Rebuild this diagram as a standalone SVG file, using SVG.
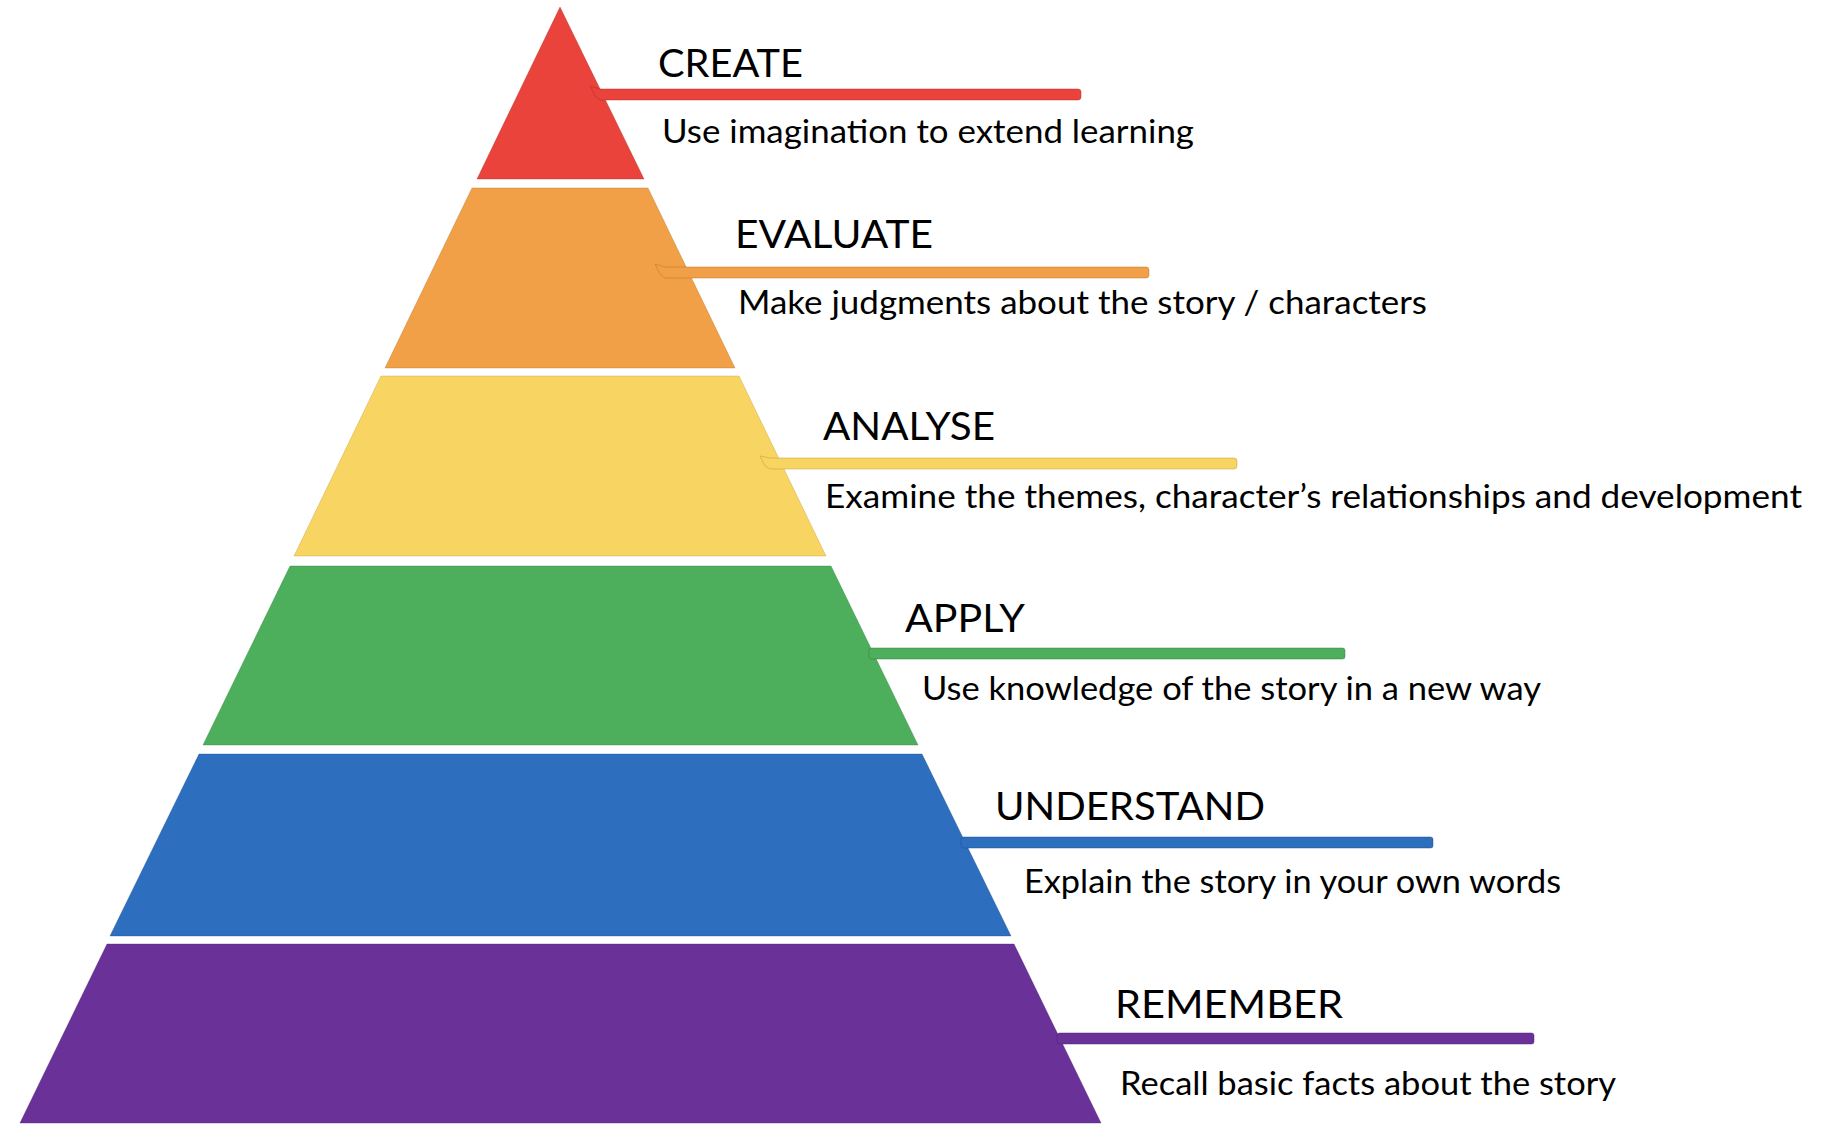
<svg xmlns="http://www.w3.org/2000/svg" width="1825" height="1131" viewBox="0 0 1825 1131">
<style>
.title{font-family:Lato,"Open Sans","Liberation Sans",sans-serif;font-size:38px;fill:#000}
.desc{font-family:Lato,"Open Sans","Liberation Sans",sans-serif;font-size:33.5px;fill:#000}
.band{stroke-width:1;stroke-opacity:0.35}
.bar{stroke-width:1;stroke-opacity:0.45}
.red{fill:#E9433B;stroke:#a82a24}
.orange{fill:#F1A047;stroke:#b0702a}
.yellow{fill:#F8D462;stroke:#b89a30}
.green{fill:#4DAE5B;stroke:#2e7a3a}
.blue{fill:#2D6EBF;stroke:#1c4a85}
.purple{fill:#6A3298;stroke:#45206a}
</style>
<rect width="1825" height="1131" fill="#ffffff"/>

<g id="create">
  <polygon class="band red" points="560,7 644,179 477,179"/>
  <text class="title" x="658" y="77" textLength="145" lengthAdjust="spacingAndGlyphs">CREATE</text>
  <text class="desc" x="662" y="143" textLength="532" lengthAdjust="spacingAndGlyphs">Use imagination to extend learning</text>
</g>

<g id="evaluate">
  <polygon class="band orange" points="472,188 648,188 735,368 385,368"/>
  <text class="title" x="735" y="248" textLength="198" lengthAdjust="spacingAndGlyphs">EVALUATE</text>
  <text class="desc" x="738" y="314" textLength="689" lengthAdjust="spacingAndGlyphs">Make judgments about the story / characters</text>
</g>

<g id="analyse">
  <polygon class="band yellow" points="381,376 739,376 826,556 294,556"/>
  <text class="title" x="823" y="440" textLength="172" lengthAdjust="spacingAndGlyphs">ANALYSE</text>
  <text class="desc" x="825" y="508" textLength="977" lengthAdjust="spacingAndGlyphs">Examine the themes, character’s relationships and development</text>
</g>

<g id="apply">
  <polygon class="band green" points="290,566 831,566 918,745 203,745"/>
  <text class="title" x="905" y="632" textLength="120" lengthAdjust="spacingAndGlyphs">APPLY</text>
  <text class="desc" x="922" y="700" textLength="619" lengthAdjust="spacingAndGlyphs">Use knowledge of the story in a new way</text>
</g>

<g id="understand">
  <polygon class="band blue" points="199,754 922,754 1011,936 110,936"/>
  <text class="title" x="995" y="820" textLength="270" lengthAdjust="spacingAndGlyphs">UNDERSTAND</text>
  <text class="desc" x="1024" y="893" textLength="537" lengthAdjust="spacingAndGlyphs">Explain the story in your own words</text>
</g>

<g id="remember">
  <polygon class="band purple" points="107,944 1014,944 1101,1123 20,1123"/>
  <text class="title" x="1115" y="1018" textLength="228" lengthAdjust="spacingAndGlyphs">REMEMBER</text>
  <text class="desc" x="1120" y="1095" textLength="496" lengthAdjust="spacingAndGlyphs">Recall basic facts about the story</text>
</g>

<g id="connectors">
  <path class="bar red" d="M590,86 L600,89 L1078,89 Q1081,89 1081,92 L1081,97 Q1081,100 1078,100 L600,100 L595,96 Z"/>
  <path class="bar orange" d="M655,264 L665,267 L1146,267 Q1149,267 1149,270 L1149,275 Q1149,278 1146,278 L665,278 L660,274 Z"/>
  <path class="bar yellow" d="M760,456 L770,458 L1234,458 Q1237,458 1237,461 L1237,466 Q1237,469 1234,469 L770,469 L765,466 Z"/>
  <rect class="bar green" x="869" y="648" width="476" height="11" rx="2.5"/>
  <rect class="bar blue" x="961" y="837" width="472" height="11" rx="2.5"/>
  <rect class="bar purple" x="1057" y="1033" width="477" height="11" rx="2.5"/>
</g>
</svg>
